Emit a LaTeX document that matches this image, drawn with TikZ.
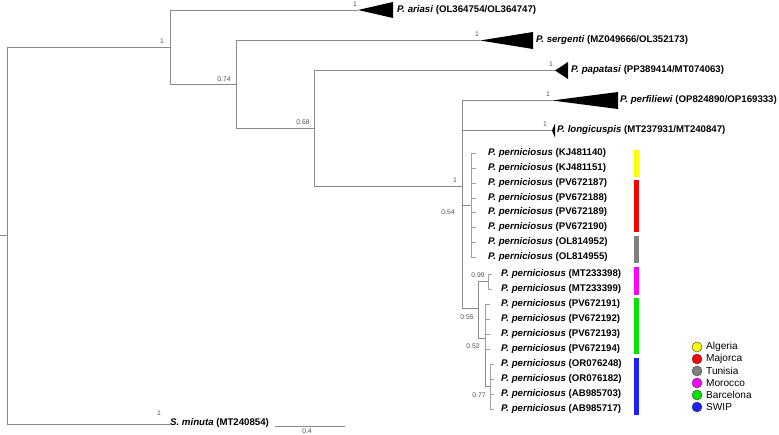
\documentclass[tikz,border=0pt]{standalone}
\usepackage{fontspec}
\setmainfont{Liberation Sans}
\definecolor{treegray}{HTML}{8A8A8A}
\definecolor{combgray}{HTML}{A0A0A0}
\definecolor{supgray}{HTML}{505050}
\definecolor{cAlg}{HTML}{FFFF00}
\definecolor{cMaj}{HTML}{FF0000}
\definecolor{cTun}{HTML}{808080}
\definecolor{cMor}{HTML}{FF00FF}
\definecolor{cBar}{HTML}{00E600}
\definecolor{cSwp}{HTML}{1E1EFF}
\tikzset{
  br/.style={draw=treegray, line width=0.75pt},
  cb/.style={draw=combgray, line width=0.7pt},
  sup/.style={font=\fontsize{6.8}{7}\selectfont, text=supgray, inner sep=0pt},
  lab/.style={font=\fontsize{9.65}{11}\selectfont\bfseries, anchor=west, inner sep=0pt},
  leg/.style={font=\fontsize{10.1}{11}\selectfont, anchor=west, inner sep=0pt},
  legdot/.style={circle, draw=black!70, line width=0.5pt, minimum size=10pt, inner sep=0pt},
  tri/.style={fill=black},
}
\newcommand{\spname}[1]{\textbf{\textit{#1}}}
\begin{document}
\begin{tikzpicture}[x=1pt,y=-1pt]
\useasboundingbox (0,0) rectangle (779,435);
% internal nodes
\coordinate (rootstub) at (0,235.5);
\coordinate (root) at (7,235.5);
\coordinate (n1) at (170,47);
\coordinate (n74) at (236,84);
\coordinate (n68) at (314,128);
\coordinate (nB) at (462,186);
\coordinate (n54) at (471,205);
\coordinate (n55) at (478,308);
\coordinate (n99) at (488,281.5);
\coordinate (n52) at (485,338);
\coordinate (n77) at (490,386.5);
% collapsed clade apexes
\coordinate (aAri) at (358,10);
\coordinate (aSer) at (480,40.5);
\coordinate (aPap) at (555,70.5);
\coordinate (aPer) at (552,100.5);
\coordinate (aLon) at (552,130.5);
\coordinate (sMin) at (170,424);
% backbone
\draw[br] (rootstub) -- (root);
\draw[br] (root) |- (n1);
\draw[br] (root) |- (sMin);
\draw[br] (n1) |- (aAri);
\draw[br] (n1) |- (n74);
\draw[br] (n74) |- (aSer);
\draw[br] (n74) |- (n68);
\draw[br] (n68) |- (aPap);
\draw[br] (n68) |- (nB);
\draw[br] (nB) |- (aPer);
\draw[br] (nB) |- (aLon);
\draw[br] (nB) |- (n54);
\draw[br] (nB) |- (n55);
\draw[br] (n55) |- (n99);
\draw[br] (n55) |- (n52);
\draw[br] (n52) |- (n77);
% triangles
\fill[tri] (aAri) -- (393,2) -- (393,18) -- cycle;
\fill[tri] (aSer) -- (533,32) -- (533,49) -- cycle;
\fill[tri] (aPap) -- (568,62) -- (568,79) -- cycle;
\fill[tri] (aPer) -- (618,92) -- (618,109) -- cycle;
\fill[tri] (aLon) -- (555,123.5) -- (555,137.5) -- cycle;
% clade labels
\node[lab] (tAri) at (397,10) {\spname{P. ariasi} (OL364754/OL364747)};
\node[lab] (tSer) at (536,40.5) {\spname{P. sergenti} (MZ049666/OL352173)};
\node[lab] (tPap) at (571,70.5) {\spname{P. papatasi} (PP389414/MT074063)};
\node[lab] (tPer) at (620,100.5) {\spname{P. perfiliewi} (OP824890/OP169333)};
\node[lab] (tLon) at (557,130.5) {\spname{P. longicuspis} (MT237931/MT240847)};
\node[lab] (tMin) at (170,423) {\spname{S. minuta} (MT240854)};
% perniciosus leaves: comb of 8
\foreach \i/\acc/\yy in {1/KJ481140/153, 2/KJ481151/168, 3/PV672187/183, 4/PV672188/198,
                          5/PV672189/212, 6/PV672190/227, 7/OL814952/242, 8/OL814955/257} {
  \coordinate (t\i) at (475.5,\yy);
  \draw[cb] (n54) |- (t\i);
  \node[lab] (L\i) at (488,\yy) {\spname{P. perniciosus} (\acc)};
}
\foreach \i/\acc/\yy in {9/MT233398/274, 10/MT233399/289} {
  \coordinate (t\i) at (492,\yy);
  \draw[cb] (n99) |- (t\i);
  \node[lab] (L\i) at (501,\yy) {\spname{P. perniciosus} (\acc)};
}
\foreach \i/\acc/\yy in {11/PV672191/304, 12/PV672192/319, 13/PV672193/334, 14/PV672194/349} {
  \coordinate (t\i) at (490,\yy);
  \draw[cb] (n52) |- (t\i);
  \node[lab] (L\i) at (501,\yy) {\spname{P. perniciosus} (\acc)};
}
\foreach \i/\acc/\yy in {15/OR076248/364, 16/OR076182/379, 17/AB985703/394, 18/AB985717/409} {
  \coordinate (t\i) at (494,\yy);
  \draw[cb] (n77) |- (t\i);
  \node[lab] (L\i) at (501,\yy) {\spname{P. perniciosus} (\acc)};
}
% support values
\node[sup] (s1) at (162,41.5) {1};
\node[sup] (s2) at (355,4) {1};
\node[sup] (s3) at (477,34) {1};
\node[sup] (s4) at (224,79) {0.74};
\node[sup] (s5) at (551,64) {1};
\node[sup] (s6) at (303,122) {0.68};
\node[sup] (s7) at (548,94) {1};
\node[sup] (s8) at (545,124) {1};
\node[sup] (s9) at (455,180) {1};
\node[sup] (s10) at (448,212) {0.54};
\node[sup] (s11) at (478,275) {0.99};
\node[sup] (s12) at (467,317) {0.55};
\node[sup] (s13) at (473,346) {0.52};
\node[sup] (s14) at (479,395) {0.77};
\node[sup] (s15) at (159,413) {1};
% scale bar
\coordinate (sb1) at (275,426.5);
\coordinate (sb2) at (345,426.5);
\draw[br] (sb1) -- (sb2);
\node[sup] (sbl) at (307,431.5) {0.4};
% colour bars
\fill[cAlg] (634,150) rectangle (639,177);
\fill[cMaj] (634,180) rectangle (639,232);
\fill[cTun] (634,236) rectangle (639,263);
\fill[cMor] (634,267) rectangle (639,295);
\fill[cBar] (634,298) rectangle (639,354);
\fill[cSwp] (634,358) rectangle (639,415);
% legend
\foreach \k/\c/\nm/\yy in {a/cAlg/Algeria/347, b/cMaj/Majorca/359, c/cTun/Tunisia/371,
                           d/cMor/Morocco/383, e/cBar/Barcelona/395, f/cSwp/SWIP/407} {
  \node[legdot, fill=\c] (d\k) at (697,\yy) {};
  \node[leg] (g\k) at (706,\yy) {\nm};
}
\end{tikzpicture}
\end{document}
